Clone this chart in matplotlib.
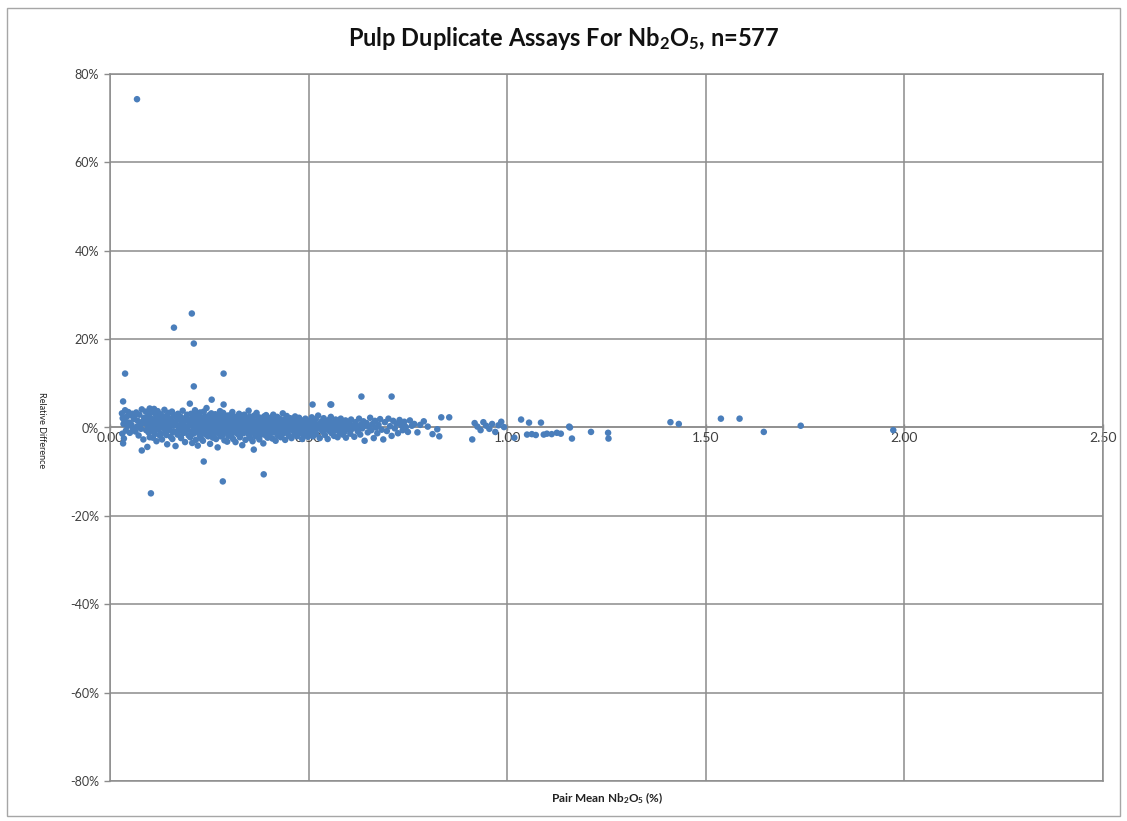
import numpy as np
import matplotlib
matplotlib.use("Agg")
from matplotlib import pyplot as plt
from matplotlib.ticker import PercentFormatter, MultipleLocator
from matplotlib.patches import Rectangle

plt.rcParams['font.family'] = ['Lato', 'DejaVu Sans']
plt.rcParams['mathtext.fontset'] = 'custom'
plt.rcParams['mathtext.rm'] = 'Lato'
plt.rcParams['mathtext.bf'] = 'Lato:bold'
plt.rcParams['mathtext.default'] = 'regular'
plt.rcParams['axes.unicode_minus'] = False

# pair mean Nb2O5 (%) and relative difference (%), grouped by x band
band_a_x = [0.030, 0.031, 0.032, 0.033, 0.034, 0.035, 0.036, 0.038, 0.040, 0.042,
            0.044, 0.046, 0.048, 0.050, 0.052, 0.054, 0.056, 0.058, 0.060, 0.062,
            0.064, 0.066, 0.068, 0.070, 0.072, 0.074, 0.076, 0.078, 0.080, 0.082,
            0.084, 0.086, 0.088, 0.090, 0.091, 0.092, 0.094, 0.095, 0.096, 0.097,
            0.098, 0.099, 0.100, 0.100, 0.100]
band_a_y = [3.2, -1.4, 2.1, -3.6, 0.8, -2.5, 1.6, 3.9, -0.7, 2.4,
            0.3, 3.5, 1.1, -1.2, 2.8, 0.6, 3.1, -0.4, 1.9, 2.6,
            -0.9, 3.4, 0.2, 1.5, -1.8, 2.9, 0.7, -0.3, 4.1, 1.3,
            -2.7, 2.2, 0.9, 3.6, -0.6, 1.8, -4.4, 2.5, 0.4, -1.1,
            3.0, 1.2, -2.2, 4.3, -0.2]

band_b_x = [0.102, 0.104, 0.105, 0.107, 0.108, 0.110, 0.111, 0.113, 0.114, 0.116,
            0.117, 0.119, 0.120, 0.122, 0.123, 0.125, 0.126, 0.128, 0.129, 0.131,
            0.132, 0.134, 0.135, 0.137, 0.138, 0.140, 0.141, 0.143, 0.144, 0.146,
            0.147, 0.149, 0.150, 0.152, 0.153, 0.155, 0.156, 0.158, 0.159, 0.161,
            0.162, 0.164, 0.165, 0.167, 0.168, 0.170, 0.171, 0.173, 0.174, 0.176,
            0.177, 0.179, 0.180, 0.182, 0.183, 0.185, 0.186, 0.188, 0.189, 0.191,
            0.192, 0.194, 0.195, 0.197, 0.198, 0.199, 0.103, 0.109, 0.115, 0.121,
            0.127, 0.133, 0.139, 0.145, 0.151, 0.157, 0.163, 0.169, 0.175, 0.181,
            0.187, 0.193, 0.106, 0.118, 0.130, 0.142, 0.154, 0.166, 0.178, 0.190]
band_b_y = [2.1, -0.8, 3.4, 0.5, -2.3, 1.7, 4.2, -1.5, 0.9, 2.8,
            -3.1, 1.2, 3.7, -0.4, 2.4, 0.1, -1.9, 3.0, 1.5, -2.7,
            0.7, 2.2, -0.2, 4.0, 1.0, -1.3, 2.6, 0.3, -3.8, 1.8,
            3.3, -0.6, 0.8, 2.0, -2.1, 1.4, 3.6, -1.0, 0.4, 2.7,
            -0.9, 1.1, -4.2, 2.3, 0.6, -1.6, 3.1, 1.9, -0.3, 0.2,
            2.5, -2.4, 1.3, -0.7, 3.8, 0.9, -1.2, 2.1, -3.3, 1.6,
            0.0, 2.9, -0.5, 1.7, -1.8, 0.5, 1.2, -0.1, 2.0, 0.8,
            -1.4, 1.5, -0.6, 2.4, 0.3, -2.6, 1.0, -0.9, 2.2, 0.4,
            -1.1, 1.8, 0.6, -0.4, 1.4, -1.7, 0.9, 2.6, -2.0, 0.2]

band_c_x = [0.201, 0.202, 0.203, 0.204, 0.205, 0.206, 0.207, 0.208, 0.209, 0.210,
            0.211, 0.212, 0.213, 0.214, 0.215, 0.216, 0.217, 0.218, 0.219, 0.220,
            0.221, 0.222, 0.223, 0.224, 0.225, 0.226, 0.227, 0.228, 0.229, 0.230,
            0.231, 0.232, 0.233, 0.234, 0.235, 0.236, 0.237, 0.238, 0.239, 0.240,
            0.241, 0.242, 0.243, 0.244, 0.245, 0.246, 0.247, 0.248, 0.249, 0.250,
            0.251, 0.252, 0.253, 0.254, 0.255, 0.256, 0.257, 0.258, 0.259, 0.260,
            0.261, 0.262, 0.263, 0.264, 0.265, 0.266, 0.267, 0.268, 0.269, 0.270,
            0.271, 0.272, 0.273, 0.274, 0.275, 0.276, 0.277, 0.278, 0.279, 0.280,
            0.281, 0.282, 0.283, 0.284, 0.285, 0.286, 0.287, 0.288, 0.289, 0.290,
            0.291, 0.292, 0.293, 0.294, 0.295, 0.296, 0.297, 0.298, 0.299, 0.300]
band_c_y = [1.4, -2.2, 0.6, 3.1, -0.9, 2.0, -3.5, 0.3, 1.8, -1.4,
            2.7, 0.1, -0.6, 3.9, 1.1, -2.8, 0.8, 2.3, -1.0, 0.4,
            -4.1, 1.6, 2.9, -0.3, 0.9, -1.8, 3.4, 0.2, -2.5, 1.3,
            2.1, -0.7, 0.5, -3.0, 1.9, 3.6, -1.2, 0.7, 2.5, -0.2,
            -1.6, 1.0, 4.4, -0.8, 0.3, 2.2, -2.0, 1.5, -0.5, 2.8,
            0.6, -3.7, 1.2, -1.1, 3.2, 0.0, -0.4, 1.7, -2.3, 0.9,
            2.4, -1.5, 0.4, -0.1, 3.0, 1.1, -2.6, 0.8, -0.9, 1.9,
            -4.5, 0.2, 2.6, -1.3, 1.4, -0.6, 3.7, 0.5, -2.0, 1.0,
            -0.3, 2.1, -1.7, 0.7, 3.3, -0.8, 1.6, -2.9, 0.1, 2.3,
            -1.1, 0.6, 1.8, -0.5, -3.2, 2.7, 0.3, -1.9, 1.2, 0.0]

band_d_x = [0.301, 0.302, 0.303, 0.305, 0.306, 0.307, 0.308, 0.309, 0.310, 0.311,
            0.312, 0.313, 0.314, 0.315, 0.316, 0.317, 0.319, 0.320, 0.321, 0.322,
            0.323, 0.324, 0.325, 0.326, 0.327, 0.328, 0.329, 0.330, 0.332, 0.333,
            0.334, 0.335, 0.336, 0.337, 0.338, 0.339, 0.340, 0.341, 0.342, 0.343,
            0.345, 0.346, 0.347, 0.348, 0.349, 0.350, 0.351, 0.352, 0.353, 0.354,
            0.355, 0.356, 0.358, 0.359, 0.360, 0.361, 0.362, 0.363, 0.364, 0.365,
            0.366, 0.367, 0.368, 0.369, 0.371, 0.372, 0.373, 0.374, 0.375, 0.376,
            0.377, 0.378, 0.379, 0.380, 0.381, 0.382, 0.384, 0.385, 0.386, 0.387,
            0.388, 0.389, 0.390, 0.391, 0.392, 0.393, 0.394, 0.395, 0.396, 0.397,
            0.398, 0.399, 0.304, 0.318, 0.331]
band_d_y = [-0.7, 1.5, 2.8, -1.9, 0.4, -0.2, 3.5, 1.0, -2.6, 0.8,
            1.9, -1.1, 0.2, 2.4, -3.3, 1.3, -0.5, 0.6, 2.1, -1.5,
            0.9, -0.1, 3.1, 1.6, -2.2, 0.3, 1.1, -0.8, 2.6, -4.0,
            0.5, 1.8, -1.3, 0.0, 2.9, -0.6, 1.4, -2.8, 0.7, 2.2,
            -1.0, 0.1, 1.7, -0.4, 3.8, -1.7, 0.9, 2.5, -2.4, 0.2,
            1.2, -0.9, 2.0, -3.1, 0.6, 1.5, -0.3, 2.7, -1.4, 0.4,
            1.0, -2.0, 0.8, 3.3, -0.7, 1.6, -1.2, 0.3, 2.3, -2.7,
            0.5, 1.3, -0.5, 2.0, -1.6, 0.9, -0.2, 1.7, -3.6, 0.6,
            2.5, -1.0, 1.1, 0.0, -1.8, 2.8, 0.4, -0.6, 1.4, -2.3,
            0.7, 1.9, -1.3, 2.4, 0.1]

band_e_x = [0.401, 0.402, 0.404, 0.405, 0.406, 0.407, 0.409, 0.410, 0.411, 0.412,
            0.414, 0.415, 0.416, 0.417, 0.419, 0.420, 0.421, 0.422, 0.424, 0.425,
            0.426, 0.427, 0.429, 0.430, 0.431, 0.432, 0.434, 0.435, 0.436, 0.437,
            0.439, 0.440, 0.441, 0.442, 0.444, 0.445, 0.446, 0.447, 0.449, 0.450,
            0.451, 0.452, 0.454, 0.455, 0.456, 0.457, 0.459, 0.460, 0.461, 0.462,
            0.464, 0.465, 0.466, 0.467, 0.469, 0.470, 0.471, 0.472, 0.474, 0.475,
            0.476, 0.477, 0.479, 0.480, 0.481, 0.482, 0.484, 0.485, 0.486, 0.487,
            0.489, 0.490, 0.491, 0.492, 0.494, 0.495, 0.496, 0.497, 0.498, 0.499]
band_e_y = [0.8, -1.6, 2.2, 0.1, -0.7, 1.4, -2.5, 0.6, 2.9, -1.1,
            0.3, 1.7, -0.4, -3.0, 1.1, 0.5, 2.4, -1.8, 0.0, 1.3,
            -0.9, 2.0, 0.7, -2.2, 1.5, -0.2, 0.9, 3.2, -1.4, 0.4,
            1.8, -0.6, -2.8, 1.0, 0.2, 2.6, -1.2, 0.6, -0.1, 1.6,
            -1.9, 0.8, 2.1, -0.5, 0.3, -2.4, 1.2, 0.0, 1.9, -0.8,
            0.5, -1.5, 2.5, 0.9, -0.3, 1.4, -2.0, 0.2, 1.0, -0.9,
            2.2, 0.4, -1.3, 1.7, -0.1, 0.6, -2.6, 1.1, 0.3, -0.6,
            1.5, -1.7, 0.8, 2.0, -0.4, 0.1, -1.0, 1.3, -2.1, 0.7]

band_f_x = [0.501, 0.503, 0.504, 0.506, 0.508, 0.509, 0.511, 0.513, 0.514, 0.516,
            0.518, 0.519, 0.521, 0.523, 0.524, 0.526, 0.528, 0.529, 0.531, 0.533,
            0.534, 0.536, 0.538, 0.539, 0.541, 0.543, 0.544, 0.546, 0.548, 0.549,
            0.551, 0.553, 0.554, 0.556, 0.558, 0.559, 0.561, 0.563, 0.564, 0.566,
            0.568, 0.569, 0.571, 0.573, 0.574, 0.576, 0.578, 0.579, 0.581, 0.583,
            0.584, 0.586, 0.588, 0.589, 0.591, 0.593, 0.594, 0.596, 0.598, 0.599]
band_f_y = [0.4, -1.2, 1.6, -0.3, 2.3, 0.9, -2.0, 0.2, 1.1, -0.7,
            1.9, -1.5, 0.6, -0.1, 2.7, 0.3, -2.4, 1.0, -0.5, 1.4,
            0.0, -1.0, 2.1, 0.7, -1.7, 0.5, 1.3, -0.4, -2.6, 0.8,
            1.7, -0.8, 0.2, 2.4, -1.3, 0.6, -0.2, 1.2, -1.9, 0.4,
            1.8, -0.6, 0.9, -2.2, 0.1, 1.5, -1.1, 0.3, 2.0, -0.4,
            0.7, -1.6, 1.1, 0.0, -0.9, 1.6, -2.3, 0.5, 1.0, -0.3]

band_g_x = [0.602, 0.605, 0.607, 0.610, 0.613, 0.615, 0.618, 0.621, 0.624, 0.627,
            0.630, 0.632, 0.635, 0.638, 0.641, 0.644, 0.646, 0.649, 0.652, 0.655,
            0.658, 0.661, 0.664, 0.667, 0.670, 0.673, 0.676, 0.680, 0.684, 0.688]
band_g_y = [0.9, -1.4, 1.8, -0.3, 0.5, -2.1, 1.2, 0.1, -0.9, 2.0,
            -1.6, 0.7, -0.2, 1.4, -3.0, 0.4, 1.0, -1.1, 0.2, 2.2,
            -0.6, 0.8, -2.4, 1.5, 0.0, -1.3, 0.6, 1.9, -0.5, -2.7]

band_h_x = [0.692, 0.697, 0.701, 0.705, 0.709, 0.713, 0.717, 0.721, 0.725, 0.729,
            0.733, 0.737, 0.741, 0.745, 0.750, 0.755, 0.760, 0.766, 0.774, 0.781,
            0.790, 0.800, 0.812, 0.824, 0.829]
band_h_y = [1.2, -0.8, 2.0, 0.3, -1.9, 1.5, -0.2, 0.9, -1.3, 1.7,
            0.5, -0.6, 1.3, 0.1, -1.0, 1.6, 0.4, 0.8, -1.1, 0.6,
            1.4, 0.2, -1.5, -0.4, -2.0]

band_i_x = [0.912, 0.918, 0.925, 0.933, 0.940, 0.947, 0.955, 0.962, 0.970, 0.978, 0.985, 0.992]
band_i_y = [-2.7, 1.0, 0.2, -0.6, 1.2, 0.4, -0.3, 0.8, -1.0, 0.5, 1.3, 0.1]

band_j_x = [1.018, 1.035, 1.050, 1.055, 1.062, 1.072, 1.085, 1.092, 1.100,
            1.112, 1.125, 1.135, 1.156, 1.158, 1.163, 1.211, 1.254, 1.255]
band_j_y = [-2.3, 1.8, -1.6, 1.1, -1.5, -1.7, 1.1, -1.6, -1.4,
            -1.5, -1.2, -1.4, 0.2, 0.0, -2.5, -1.0, -1.2, -2.5]

band_k_x = [1.411, 1.432, 1.538, 1.585, 1.646, 1.739, 1.972]
band_k_y = [1.2, 0.8, 2.0, 2.0, -1.0, 0.4, -0.6]

outlier_x = [0.068, 0.206, 0.161, 0.211, 0.038, 0.286, 0.211, 0.033, 0.256, 0.201,
             0.286, 0.510, 0.555, 0.557, 0.633, 0.709, 0.834, 0.854, 0.080, 0.236,
             0.284, 0.387, 0.103, 0.362]
outlier_y = [74.3, 25.8, 22.6, 19.0, 12.2, 12.2, 9.3, 5.9, 6.3, 5.4,
             5.2, 5.2, 5.2, 5.2, 7.0, 7.0, 2.3, 2.3, -5.2, -7.7,
             -12.2, -10.6, -14.9, -5.0]

pair_mean = np.concatenate([band_a_x, band_b_x, band_c_x, band_d_x, band_e_x, band_f_x,
                            band_g_x, band_h_x, band_i_x, band_j_x, band_k_x, outlier_x])
rel_diff = np.concatenate([band_a_y, band_b_y, band_c_y, band_d_y, band_e_y, band_f_y,
                           band_g_y, band_h_y, band_i_y, band_j_y, band_k_y, outlier_y])

grid_col = '#8c8c8c'

fig = plt.figure(figsize=(11.27, 8.21), dpi=100)
ax = fig.add_axes([110/1127, 1-781/821, (1103-110)/1127, (781-74)/821])

ax.scatter(pair_mean, rel_diff, s=22, color='#4a7ebb', edgecolors='none', zorder=3)

ax.set_xlim(0, 2.5)
ax.set_ylim(-80, 80)
ax.xaxis.set_major_locator(MultipleLocator(0.5))
ax.yaxis.set_major_locator(MultipleLocator(20))
ax.xaxis.set_major_formatter(lambda v, p: f"{v:.2f}")
ax.yaxis.set_major_formatter(PercentFormatter(100, decimals=0))

ax.grid(True, color=grid_col, linewidth=1.1)
ax.set_axisbelow(True)
ax.spines['bottom'].set_position(('data', 0))
for s in ax.spines.values():
    s.set_color(grid_col)
    s.set_linewidth(1.1)
ax.tick_params(axis='both', colors=grid_col, length=4, width=1)
ax.tick_params(axis='x', direction='inout', labelsize=10, labelcolor='#404040', pad=1)
ax.tick_params(axis='y', labelsize=9, labelcolor='#404040', pad=4)
ax.axhline(-80, color=grid_col, linewidth=1.1, clip_on=False)

fig.text(0.5, 1-38/821, r"Pulp Duplicate Assays For Nb$_2$O$_5$, n=577",
         ha='center', va='center', fontsize=17, fontweight='bold', color='#111111')
fig.text(607/1127, 1-798/821, r"Pair Mean Nb$_2$O$_5$ (%)",
         ha='center', va='center', fontsize=8.5, fontweight='bold', color='#222222')
fig.text(41/1127, 1-430/821, "Relative Difference", rotation=270,
         ha='center', va='center', fontsize=6.5, color='#222222')

fig.patches.append(Rectangle((7/1127, 1-816/821), 1113/1127, 808/821,
                             transform=fig.transFigure, fill=False,
                             edgecolor='#a6a6a6', linewidth=1))

plt.savefig("out.png", dpi=100)
